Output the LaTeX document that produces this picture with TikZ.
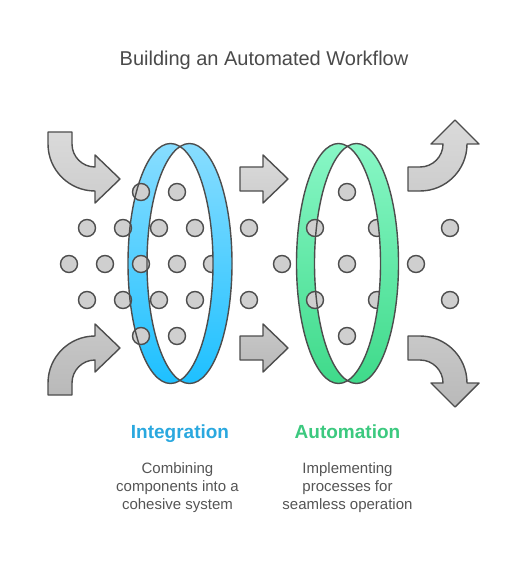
\documentclass[tikz,border=0pt]{standalone}
\usepackage{fontspec}
\setmainfont{Liberation Sans}
\definecolor{edge}{HTML}{4D4D4D}
\definecolor{dotfill}{HTML}{CFCFCF}
\definecolor{blueTop}{HTML}{88DDFF}
\definecolor{blueBot}{HTML}{1EC0FF}
\definecolor{greenTop}{HTML}{88F7C6}
\definecolor{greenBot}{HTML}{3FDA8A}
\definecolor{blueText}{HTML}{2AA8DF}
\definecolor{greenText}{HTML}{3CC97F}
\definecolor{textgray}{HTML}{4A4A4A}
\definecolor{descgray}{HTML}{555555}
\definecolor{arrTopA}{HTML}{DADADA}
\definecolor{arrTopB}{HTML}{CDCDCD}
\definecolor{arrBotA}{HTML}{C8C8C8}
\definecolor{arrBotB}{HTML}{B9B9B9}
\begin{document}
\begin{tikzpicture}[x=1pt,y=-1pt,
  dot/.style={circle,draw=edge,fill=dotfill,line width=1.4pt,minimum size=17pt,inner sep=0pt},
  ringline/.style={draw=edge,line width=1.4pt},
  arrowshape/.style={draw=edge,line width=1.4pt,line join=round},
  toparrow/.style={arrowshape,top color=arrTopA,bottom color=arrTopB},
  botarrow/.style={arrowshape,top color=arrBotA,bottom color=arrBotB},
  bluebandfill/.style={even odd rule,top color=blueTop,bottom color=blueBot},
  greenbandfill/.style={even odd rule,top color=greenTop,bottom color=greenBot},
  titletext/.style={font=\fontsize{20}{24}\selectfont,text=textgray,anchor=base},
  headtext/.style={font=\bfseries\fontsize{19}{22}\selectfont,anchor=base},
  desctext/.style={font=\fontsize{15}{18}\selectfont,text=descgray,anchor=base}]
\useasboundingbox (0,0) rectangle (528,564);
\fill[white] (0,0) rectangle (528,564);

% title
\node[titletext] (title) at (264,66) {Building an Automated Workflow};

% arrows
\path[toparrow] (48,132) -- (48,144) arc[start angle=180,end angle=90,radius=47]
  -- (95,203) -- (120,179) -- (95,155) -- (95,167)
  arc[start angle=90,end angle=180,radius=23] -- (72,132) -- cycle;
\path[botarrow] (48,395) -- (48,383) arc[start angle=180,end angle=270,radius=47]
  -- (95,324) -- (120,348) -- (95,372) -- (95,360)
  arc[start angle=270,end angle=180,radius=23] -- (72,395) -- cycle;
\path[toparrow] (240,167) -- (263,167) -- (263,155) -- (288,179) -- (263,203) -- (263,191) -- (240,191) -- cycle;
\path[botarrow] (240,336) -- (263,336) -- (263,324) -- (288,348) -- (263,372) -- (263,360) -- (240,360) -- cycle;
\path[toparrow] (408,167) -- (420,167) arc[start angle=90,end angle=0,radius=23]
  -- (443,144) -- (431,144) -- (455,120) -- (479,144) -- (467,144)
  arc[start angle=0,end angle=90,radius=47] -- (408,191) -- cycle;
\path[botarrow] (408,360) -- (420,360) arc[start angle=270,end angle=360,radius=23]
  -- (443,383) -- (431,383) -- (455,407) -- (479,383) -- (467,383)
  arc[start angle=360,end angle=270,radius=47] -- (408,336) -- cycle;

% ring bands (back)
\shade[bluebandfill] (170.5,263.5) ellipse[x radius=42.5,y radius=120] (189.5,263.5) ellipse[x radius=42.5,y radius=120];
\shade[greenbandfill] (338.5,263.5) ellipse[x radius=42,y radius=120] (356.5,263.5) ellipse[x radius=42,y radius=120];

% dots
\node[dot] (b1) at (141,192) {};
\node[dot] (b2) at (177,192) {};
\node[dot] (b3) at (87,228) {};
\node[dot] (b4) at (123,228) {};
\node[dot] (b5) at (159,228) {};
\node[dot] (b6) at (195,228) {};
\node[dot] (b7) at (69,264) {};
\node[dot] (b8) at (105,264) {};
\node[dot] (b9) at (141,264) {};
\node[dot] (b10) at (177,264) {};
\node[dot] (b11) at (212,264) {};
\node[dot] (b12) at (87,300) {};
\node[dot] (b13) at (123,300) {};
\node[dot] (b14) at (159,300) {};
\node[dot] (b15) at (195,300) {};
\node[dot] (b16) at (141,336) {};
\node[dot] (b17) at (177,336) {};
\node[dot] (m1) at (249,228) {};
\node[dot] (m2) at (282,264) {};
\node[dot] (m3) at (249,300) {};
\node[dot] (g1) at (347,192) {};
\node[dot] (g2) at (315,228) {};
\node[dot] (g3) at (377,228) {};
\node[dot] (g4) at (347,264) {};
\node[dot] (g5) at (315,300) {};
\node[dot] (g6) at (377,300) {};
\node[dot] (g7) at (347,336) {};
\node[dot] (r1) at (450,228) {};
\node[dot] (r2) at (416,264) {};
\node[dot] (r3) at (450,300) {};

% ring bands (front, right crescent)
\begin{scope}
\clip (180,100) rectangle (250,420);
\shade[bluebandfill] (170.5,263.5) ellipse[x radius=42.5,y radius=120] (189.5,263.5) ellipse[x radius=42.5,y radius=120];
\end{scope}
\begin{scope}
\clip (347.5,100) rectangle (420,420);
\shade[greenbandfill] (338.5,263.5) ellipse[x radius=42,y radius=120] (356.5,263.5) ellipse[x radius=42,y radius=120];
\end{scope}

% ring outlines
\path[ringline] (170.5,263.5) ellipse[x radius=42.5,y radius=120] (189.5,263.5) ellipse[x radius=42.5,y radius=120];
\path[ringline] (338.5,263.5) ellipse[x radius=42,y radius=120] (356.5,263.5) ellipse[x radius=42,y radius=120];

% labels
\node[headtext,text=blueText] (inthead) at (180,438) {Integration};
\node[headtext,text=greenText] (authead) at (347.5,438) {Automation};
\node[desctext] (intd1) at (177.5,473) {Combining};
\node[desctext] (intd2) at (177.5,491) {components into a};
\node[desctext] (intd3) at (177.5,509) {cohesive system};
\node[desctext] (autd1) at (347.5,473) {Implementing};
\node[desctext] (autd2) at (347.5,491) {processes for};
\node[desctext] (autd3) at (347.5,509) {seamless operation};
\end{tikzpicture}
\end{document}
